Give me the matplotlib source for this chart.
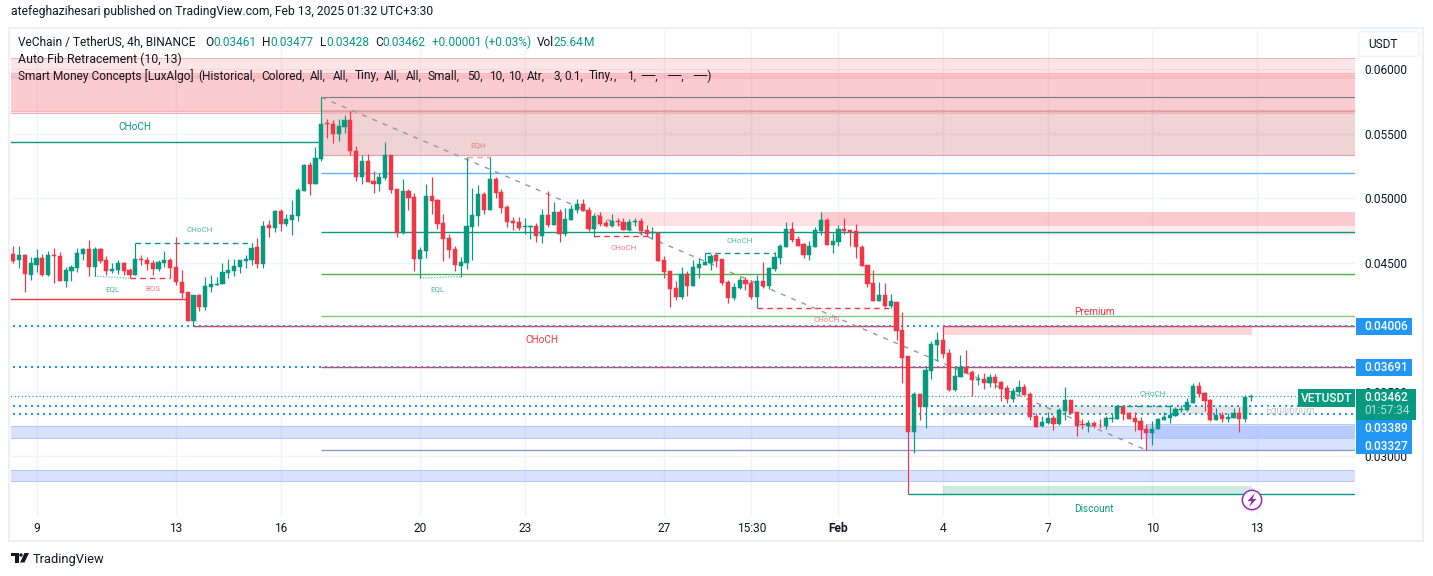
import numpy as np
import matplotlib
matplotlib.use("Agg")
import matplotlib.pyplot as plt
from matplotlib.patches import Rectangle, FancyBboxPatch, Circle, Polygon

W, H = 1433, 576
plt.rcParams['font.family'] = ['Roboto', 'DejaVu Sans']

# ---------- candle data, prices in units of 0.00001 USDT ----------
highs = [
 4628,4628,4566,4540,4605,4566,4589,4610,4581,4462, 4481,4610,4610,4674,4617,4610,4550,4493,4519,4501,
 4455,4648,4558,4545,4519,4519,4589,4535,4695,4442, 4271,4248,4253,4390,4403,4390,4493,4530,4530,4519,
 4558,4648,4687,4824,4829,4907,4915,4876,4984,5080, 5261,5279,5393,5780,5610,5605,5612,5643,5674,5400,
 5333,5341,5209,5196,5434,5333,5070,5147,5070,5039, 4617,5106,5163,4992,4876,4721,4628,4540,5315,5077,
 5101,5046,5315,5160,5067,4946,4850,4850,4842,4791, 4804,4915,5054,4969,4915,4922,4946,4992,4992,4933,
 4884,4891,4829,4876,4845,4842,4837,4845,4842,4791, 4775,4736,4550,4434,4357,4465,4434,4519,4532,4571,
 4566,4566,4527,4364,4338,4388,4388,4364,4403,4504, 4465,4581,4641,4814,4814,4705,4654,4667,4775,4891,
 4845,4729,4791,4845,4752,4798,4636,4481,4442,4349, 4341,4256,4194,4116,3775,3496,3481,3698,3891,3961,
 4008,3829,3698,3783,3822,3667,3636,3641,3636,3636, 3581,3550,3527,3589,3558,3496,3331,3310,3344,3318,
 3372,3537,3434,3341,3284,3279,3274,3284,3313,3323, 3388,3388,3344,3344,3300,3248,3271,3297,3344,3395,
 3382,3395,3447,3563,3576,3499,3442,3375,3344,3336,3369,3382,3473,3477]
body_tops = [
 4566,4558,4558,4496,4535,4535,4558,4558,4550,4442, 4465,4574,4605,4605,4605,4605,4519,4450,4496,4496,
 4442,4527,4527,4519,4496,4504,4519,4519,4465,4349, 4271,4248,4248,4318,4333,4333,4426,4442,4473,4519,
 4527,4612,4620,4783,4791,4899,4899,4837,4866,5062, 5256,5256,5310,5574,5579,5574,5558,5605,5605,5364,
 5287,5287,5132,5163,5333,5333,5070,5054,5054,5008, 4597,5016,5016,4984,4806,4690,4605,4504,4783,4868,
 5031,5031,5147,5145,5046,4930,4822,4814,4783,4783, 4783,4868,4868,4891,4891,4837,4915,4953,4953,4907,
 4860,4860,4806,4822,4822,4814,4814,4822,4822,4752, 4736,4729,4519,4434,4302,4411,4411,4465,4488,4504,
 4550,4558,4527,4349,4310,4364,4364,4341,4357,4357, 4457,4543,4628,4760,4760,4682,4643,4628,4752,4829,
 4829,4667,4760,4760,4752,4744,4620,4481,4341,4248, 4248,4201,4194,3977,3775,3481,3481,3667,3868,3899,
 3899,3796,3620,3690,3690,3651,3597,3597,3612,3612, 3574,3527,3504,3535,3535,3481,3310,3263,3294,3294,
 3356,3434,3434,3341,3245,3258,3258,3243,3294,3297, 3385,3382,3336,3297,3271,3209,3209,3287,3302,3318,
 3364,3367,3419,3543,3543,3488,3434,3318,3318,3305,3333,3333,3457,3462]
body_bottoms = [
 4512,4522,4408,4403,4481,4403,4403,4550,4359,4359, 4434,4457,4568,4465,4465,4512,4434,4434,4442,4434,
 4403,4403,4519,4486,4450,4450,4496,4457,4349,4261, 4046,4046,4158,4158,4310,4326,4333,4419,4434,4465,
 4514,4519,4488,4488,4767,4767,4798,4798,4829,4860, 5054,5108,5108,5302,5571,5496,5496,5550,5364,5163,
 5163,5124,5108,5108,5155,5062,4729,4729,5000,4527, 4527,4589,4977,4798,4682,4597,4481,4473,4496,4775,
 4860,4907,4907,5041,4922,4814,4806,4767,4778,4778, 4705,4705,4791,4791,4721,4721,4829,4907,4899,4760,
 4760,4798,4783,4783,4814,4752,4752,4814,4744,4721, 4729,4512,4426,4295,4233,4233,4318,4318,4457,4481,
 4496,4512,4341,4225,4225,4302,4333,4233,4233,4318, 4318,4450,4535,4620,4674,4628,4558,4558,4620,4744,
 4636,4636,4659,4744,4736,4620,4473,4333,4201,4201, 4163,4163,3969,3760,3186,3186,3382,3382,3661,3860,
 3791,3512,3512,3612,3643,3589,3589,3566,3566,3566, 3519,3442,3442,3496,3473,3305,3225,3232,3256,3248,
 3248,3349,3333,3232,3240,3232,3232,3238,3232,3289, 3289,3326,3287,3266,3201,3178,3178,3207,3279,3294,
 3310,3356,3356,3411,3481,3426,3279,3279,3287,3289,3292,3287,3287,3461]
lows = [
 4499,4455,4274,4364,4429,4395,4395,4344,4359,4313, 4359,4429,4519,4395,4395,4493,4403,4416,4411,4403,
 4377,4403,4481,4442,4403,4437,4468,4377,4326,4222, 4046,4008,4124,4132,4274,4326,4333,4377,4395,4416,
 4460,4481,4460,4457,4698,4739,4744,4783,4713,4822, 5054,5023,5108,5287,5462,5424,5442,5501,5333,5132,
 5108,5124,5039,5057,5139,5039,4698,4721,4907,4434, 4377,4537,4876,4762,4512,4532,4434,4390,4450,4519,
 4783,4876,4907,4997,4881,4773,4752,4752,4721,4682, 4659,4651,4778,4791,4659,4705,4829,4884,4899,4744,
 4700,4783,4775,4775,4783,4752,4744,4783,4713,4705, 4682,4512,4380,4155,4209,4217,4240,4318,4380,4481,
 4442,4465,4326,4186,4209,4295,4287,4217,4145,4302, 4292,4434,4488,4620,4659,4628,4535,4519,4620,4713,
 4636,4574,4628,4721,4628,4535,4473,4310,4201,4201, 4155,4145,3899,3563,2703,3021,3279,3217,3599,3736,
 3760,3504,3504,3612,3643,3468,3550,3519,3535,3527, 3426,3411,3419,3473,3473,3279,3225,3225,3248,3201,
 3240,3279,3333,3158,3207,3189,3214,3214,3207,3266, 3289,3279,3287,3194,3132,3046,3085,3207,3279,3258,
 3310,3344,3351,3411,3460,3349,3271,3279,3266,3266,3292,3189,3266,3428]
candle_dirs = ("RGRGGRGRRG" "GGGRGRRGGR" "RGRRRGGRRR" "RGRGGGGGGG" "GGRGRGRGGG" "GRGGRRGGRR" "GRRGGRRGRR"
               "GGRRRRRGGG" "GRGRRRRRGG" "RGRGRGGGRR" "GRRGRRGGRR" "GRRRRGRGGG" "GRRRGGRRGR" "GGGGRRRGGG"
               "RGGRRRRRRG" "RGRRRGRGGG" "RRGGRRGRGR" "RRGGRRRGGR" "GGRRRGRRGG" "GRRRRRGGGG" "GGGGRRRGRGGRGG")

# ---------- axis labels ----------
x_tick_bars = [4, 28, 46, 70, 88, 112, 127, 142, 160, 178, 196, 214]
x_tick_labels = ["9", "13", "16", "20", "23", "27", "15:30", "Feb", "4", "7", "10", "13"]
y_ticks = [0.030, 0.035, 0.040, 0.045, 0.050, 0.055, 0.060]

# ---------- indicator levels: (bar start, bar end, price low, price high) ----------
END = 231
pink_zones = [(-1, END, 5657, 6083, 0.13), (-1, END, 5674, 5967, 0.14), (-1, END, 5922, 5953, 0.10),
              (100, END, 4785, 4889, 0.15), (139, END, 4785, 4889, 0.13), (145, END, 4715, 4785, 0.09)]
blue_zones = [(-1, END, 3143, 3232), (-1, END, 2806, 2891), (195, END, 3046, 3246)]
premium_zone = (160, 213.2, 3938, 4008)
equilibrium_zone = (160, 213.2, 3325, 3390)
discount_zone = (160, 213.2, 2702, 2767)
fib_zone = (53, END, 5337, 5665)
fib_top = 5781
fib_band = 5674
fib_levels = [(5196, '#64b5f6'), (4734, '#089981'), (4408, '#4caf50'), (4089, '#81c784'), (3043, '#8f9cc7')]
solid_levels = [(-1, 53, 5432, '#089981'), (-1, 30, 4214, '#f23645'), (31, 152, 4008, '#f23645'),
                (160, END, 4008, '#f23645'), (53, END, 3691, '#f23645'), (154, END, 2703, '#089981')]
dotted_levels = [4006, 3691, 3389, 3327]
last_price = 3462
dashed_levels = [(21, 41, 4648, '#089981'), (20, 27, 4377, '#f23645'), (100, 110, 4703, '#f23645'),
                 (119, 131, 4571, '#089981'), (128, 152, 4145, '#f23645'), (190, 199, 3390, '#089981'),
                 (78, 82, 5315, '#f5a3aa')]
eql_lines = [((14, 20), (4395, 4377)), ((70, 77), (4380, 4390))]
trend_bars = (53, 195)
trend_prices = (5781, 3046)
# labels: text, bar, price, size, colour
labels = [("CHoCH", 21, 5550, 7.2, '#089981'), ("CHoCH", 32, 4752, 5.8, '#4fb9a5'), ("EQL", 17, 4295, 5.8, '#4fb9a5'),
          ("BOS", 24, 4295, 5.8, '#f67a84'), ("EQL", 73, 4295, 5.8, '#4fb9a5'), ("EQH", 80, 5411, 5.8, '#f67a84'),
          ("CHoCH", 105, 4612, 5.8, '#f67a84'), ("CHoCH", 125, 4667, 5.8, '#4fb9a5'), ("CHoCH", 140, 4054, 5.8, '#f67a84'),
          ("CHoCH", 91, 3899, 7.2, '#f23645'), ("Premium", 186, 4116, 7.2, '#f23645'), ("Discount", 186, 2589, 7.2, '#089981'),
          ("CHoCH", 196, 3480, 5.8, '#4fb9a5')]
equilibrium_label = ("Equilibrium", 215.4, 3349)

# ---------- figure ----------
UNIT = 1e-5
UP, DOWN = '#089981', '#f23645'
fig = plt.figure(figsize=(W / 100, H / 100), dpi=100, facecolor='white')
ax = fig.add_axes([11 / W, 1 - 516 / H, 1344 / W, 486 / H])
ax.set_xlim(-0.396, 230.9)
ax.set_ylim(2535 * UNIT, 6302.3 * UNIT)
for s in ax.spines.values():
    s.set_visible(False)
ax.set_axisbelow(True)
ax.grid(True, color='#f0f3fa', lw=1.0)
ax.set_xticks(x_tick_bars)
ax.set_xticklabels(x_tick_labels, fontsize=8.6, color='#131722')
ax.get_xticklabels()[7].set_fontweight('bold')
ax.yaxis.tick_right()
ax.set_yticks(y_ticks)
ax.set_yticklabels([f"{v:.5f}" for v in y_ticks], fontsize=8.6, color='#131722')
ax.tick_params(axis='both', length=0)
ax.tick_params(axis='y', pad=6.5)
ax.tick_params(axis='x', pad=4.5)

def zone(x0, x1, p0, p1, color, alpha, z=2, edge=None):
    ax.add_patch(Rectangle((x0, p0 * UNIT), x1 - x0, (p1 - p0) * UNIT, facecolor=color, alpha=alpha,
                           edgecolor='none', zorder=z))
    if edge:
        ax.hlines([p0 * UNIT, p1 * UNIT], x0, x1, color=edge, lw=0.75, zorder=z + 0.1)

for x0, x1, p0, p1, a in pink_zones:
    zone(x0, x1, p0, p1, DOWN, a)
ax.hlines([z[3] * UNIT for z in pink_zones[:2]] + [5657 * UNIT, 5674 * UNIT], -1, END, color='#f7b3b8', lw=0.75, zorder=2.1)
for x0, x1, p0, p1 in blue_zones:
    zone(x0, x1, p0, p1, '#2962ff', 0.18, edge='#b3caf9')
zone(*fib_zone[:4], '#af232d', 0.2)
ax.hlines(fib_zone[2] * UNIT, fib_zone[0], END, color='#e6a6ad', lw=0.9, zorder=2.2)
ax.hlines(fib_band * UNIT, fib_zone[0], END, color='#c98b92', lw=1.2, alpha=0.6, zorder=2.2)
ax.hlines(fib_top * UNIT, fib_zone[0], END, color='#787b86', lw=0.8, zorder=3)
zone(*premium_zone, '#f23645', 0.2)
zone(*equilibrium_zone, '#b2b5be', 0.35)
zone(*discount_zone, '#089981', 0.2)

for p, c in fib_levels:
    ax.hlines(p * UNIT, 53, END, color=c, lw=1.0, zorder=3)
for x0, x1, p, c in solid_levels:
    ax.hlines(p * UNIT, x0, x1, color=c, lw=1.0, zorder=3)
for p in dotted_levels:
    ax.plot([-1, END], [p * UNIT, p * UNIT], color='#2196f3', lw=1.44, ls=(0, (1, 2)), zorder=3.2)
ax.plot([-1, END], [last_price * UNIT] * 2, color='#089981', lw=0.8, ls=(0, (1, 2.2)), zorder=3.2)
for x0, x1, p, c in dashed_levels:
    ax.plot([x0, x1], [p * UNIT, p * UNIT], color=c, lw=1.0, ls=(0, (4, 3)), zorder=3.2)
for xs, ps in eql_lines:
    ax.plot(xs, np.array(ps) * UNIT, color='#7fcdbd', lw=1.0, ls=(0, (1, 1)), zorder=3.2)
ax.plot(trend_bars, np.array(trend_prices) * UNIT, color='#96989f', lw=1.0, ls=(0, (3.6, 4.4)), zorder=4.5)

# candles
xs = np.arange(len(highs))
hi, lo = np.array(highs) * UNIT, np.array(lows) * UNIT
top, bot = np.array(body_tops) * UNIT, np.array(body_bottoms) * UNIT
colors = [UP if d == 'G' else DOWN for d in candle_dirs]
opens = np.where(np.array(list(candle_dirs)) == 'G', bot, top)
closes = np.where(np.array(list(candle_dirs)) == 'G', top, bot)
ax.vlines(xs, lo, hi, colors=colors, lw=0.85, zorder=5)
ax.bar(xs, np.abs(closes - opens), bottom=np.minimum(opens, closes), width=0.72, color=colors,
       edgecolor=colors, lw=0.35, zorder=5.1)

for t, x, p, s, c in labels:
    ax.text(x, p * UNIT, t, fontsize=s, color=c, ha='center', va='center', zorder=6)
ax.text(equilibrium_label[1], equilibrium_label[2] * UNIT, equilibrium_label[0],
        fontsize=7.2, color='#c3c5cc', ha='left', va='center', zorder=6)

# ---------- chrome in pixel coordinates ----------
def fx(x): return x / W
def fy(y): return 1 - y / H
def txt(x, y, s, size=8.6, color='#131722', **k):
    k.setdefault('ha', 'left')
    k.setdefault('va', 'center')
    return fig.text(fx(x), fy(y), s, fontsize=size, color=color, zorder=10, **k)
def box(x0, y0, x1, y1, color, z=5):
    fig.add_artist(Rectangle((fx(x0), fy(y1)), (x1 - x0) / W, (y1 - y0) / H, transform=fig.transFigure,
                             facecolor=color, edgecolor='none', zorder=z))

fig.add_artist(Rectangle((fx(9), fy(540.5)), 1414 / W, 512.5 / H, transform=fig.transFigure, facecolor='none',
                         edgecolor='#eef0f5', lw=1.4, zorder=1))

txt(11, 12, "atefeghazihesari published on TradingView.com, Feb 13, 2025 01:32 UTC+3:30", 8.75)
txt(18, 42, "VeChain / TetherUS, 4h, BINANCE", 8.6)
for x, s, c in [(205, "O", '#131722'), (213, "0.03461", UP), (262, "H", '#131722'), (270, "0.03477", UP),
                (320, "L", '#131722'), (326, "0.03428", UP), (375, "C", '#131722'), (382, "0.03462", UP),
                (432, "+0.00001 (+0.03%)", UP), (537, "Vol", '#131722'), (553, "25.64", UP), (584, "M", UP)]:
    txt(x, 42, s, 8.6, c)
txt(18, 59, "Auto Fib Retracement (10, 13)", 8.9)
txt(18, 76, "Smart Money Concepts [LuxAlgo]", 8.6)
for x, s in [(198, "(Historical,"), (261, "Colored,"), (310, "All,"), (333, "All,"), (355, "Tiny,"), (384, "All,"),
             (406, "All,"), (428, "Small,"), (467, "50,"), (489, "10,"), (508, "10,"), (527, "Atr,"), (553, "3,"),
             (564, "0.1,"), (589, "Tiny,"), (614, ","), (627, "1,"), (641, "──,"), (667, "──,"), (693, "──)")]:
    txt(x, 76, s, 8.6)

# right scale
fig.add_artist(FancyBboxPatch((fx(1360), fy(56)), 58 / W, 24 / H, boxstyle="round,pad=0.0007,rounding_size=0.003",
                              transform=fig.transFigure, facecolor='white', edgecolor='#f0f3fa', lw=1, zorder=5))
txt(1368, 44, "USDT", 8.6)
for y0, y1, s, ty in [(318, 335, "0.04006", 326.5), (359, 376, "0.03691", 367.5), (420, 437, "0.03389", 428.5), (437, 454, "0.03327", 446)]:
    box(1356, y0, 1412, y1, '#2196f3')
    txt(1364, ty, s, 8.6, 'white', fontweight='medium')
box(1356, 389, 1416, 420, UP, 6)
box(1298, 389, 1355, 407, UP, 6)
txt(1327, 398, "VETUSDT", 8.6, 'white', ha='center', fontweight='medium')
txt(1364, 397.5, "0.03462", 8.6, 'white', fontweight='medium')
txt(1364, 411, "01:57:34", 8.6, '#b5e0d8')

# lightning badge
fig.add_artist(Circle((1252, H - 500), 9.7, transform=None, facecolor='white', edgecolor='#9c27b0', lw=1.1, zorder=7))
bolt = [(1255, 493), (1247.5, 501), (1251.5, 501), (1249, 507), (1256.5, 499), (1252.5, 499)]
fig.add_artist(Polygon([(x, H - y) for x, y in bolt], transform=None, facecolor='#9c27b0', edgecolor='none', zorder=8))

# TradingView logo
box(10.5, 553, 18.5, 556, '#131722')
box(14.5, 553, 18.5, 562.5, '#131722')
fig.add_artist(Circle((21, H - 555), 1.7, transform=None, facecolor='#131722', edgecolor='none', zorder=5))
fig.add_artist(Polygon([(x, H - y) for x, y in [(24.5, 553), (29, 553), (24.5, 562.5), (20, 562.5)]], transform=None,
                       facecolor='#131722', edgecolor='none', zorder=5))
txt(33, 559, "TradingView", 9.3, '#131722')

fig.savefig("out.png", dpi=100, facecolor='white')
